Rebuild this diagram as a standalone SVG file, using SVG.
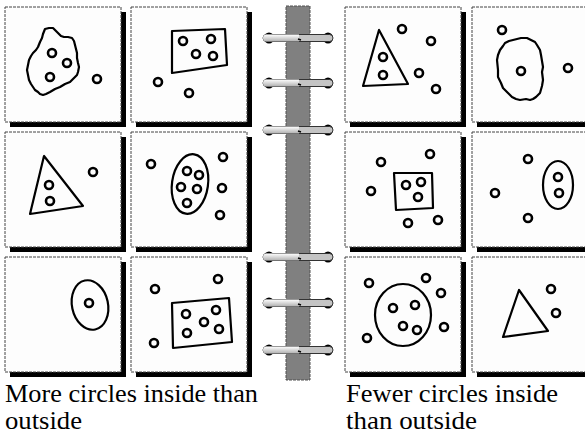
<svg xmlns="http://www.w3.org/2000/svg" width="585" height="438" viewBox="0 0 585 438">
<style>
.sh{fill:#000}
.pn{fill:#fdfdfd;stroke:#444;stroke-width:1;stroke-dasharray:3 1}
.c{fill:none;stroke:#000;stroke-width:2.6}
.s{fill:none;stroke:#000;stroke-width:2.2;stroke-linejoin:round}
.t{font-family:"Liberation Serif","Times New Roman",serif;font-size:26px;fill:#000}
.tube{stroke:#333;stroke-width:1}
</style>
<defs>
<linearGradient id="lg" x1="0" y1="0" x2="0" y2="1">
<stop offset="0" stop-color="#ffffff"/><stop offset="1" stop-color="#b0b0b0"/>
</linearGradient>
<g id="ring">
<ellipse cx="269" cy="0" rx="5" ry="5.5" fill="#000"/>
<ellipse cx="328" cy="0" rx="5" ry="5.5" fill="#000"/>
<rect x="263" y="-3.5" width="70" height="7" rx="3.5" fill="#c4c4c4" class="tube"/>
<path d="M266.5,-3.5 H299 V3.5 H266.5 A3.5,3.5 0 0 1 266.5,-3.5 Z" fill="url(#lg)"/>
<path d="M298,1 L301,2" stroke="#000" stroke-width="1.5"/>
</g>
</defs>
<rect width="585" height="438" fill="#fff"/>

<g id="spine">
<rect x="286" y="6" width="24" height="374" fill="#808080" stroke="#505050" stroke-width="1" stroke-dasharray="3 1"/>
</g>
<g id="rings">
<use href="#ring" y="38"/>
<use href="#ring" y="83"/>
<use href="#ring" y="130"/>
<use href="#ring" y="257"/>
<use href="#ring" y="303"/>
<use href="#ring" y="350"/>
</g>

<g id="panel1">
<rect class="sh" x="10" y="12" width="116" height="115"/>
<rect class="pn" x="5" y="7" width="116" height="115"/>
<path class="s" d="M45,29 L49,28 L53,28 L56,31 L58,33 L61,36 L64,37 L68,37 L72,38 L74,41 L75,45 L76,49 L77,53 L77,58 L78,63 L79,67 L78,72 L77,75 L74,78 L70,82 L65,84 L60,87 L55,89 L50,92 L46,94 L43,95 L40,94 L38,92 L35,90 L33,87 L31,84 L29,80 L28,75 L27,70 L28,65 L29,60 L31,56 L33,53 L36,50 L38,47 L40,42 L42,38 L43,34 Z"/>
<circle class="c" cx="52" cy="53" r="4"/>
<circle class="c" cx="67" cy="63" r="4"/>
<circle class="c" cx="50" cy="77" r="4"/>
<circle class="c" cx="97" cy="79" r="4"/>
</g>

<g id="panel2">
<rect class="sh" x="136" y="12" width="116" height="115"/>
<rect class="pn" x="131" y="7" width="116" height="115"/>
<path class="s" d="M172,31 L225,29 L227,65 L172,73 Z"/>
<circle class="c" cx="183" cy="41" r="4"/>
<circle class="c" cx="211" cy="39" r="4"/>
<circle class="c" cx="196" cy="54" r="4"/>
<circle class="c" cx="213" cy="56" r="4"/>
<circle class="c" cx="158" cy="82" r="4"/>
<circle class="c" cx="189" cy="93" r="4"/>
</g>

<g id="panel3">
<rect class="sh" x="350" y="12" width="116" height="115"/>
<rect class="pn" x="345" y="7" width="116" height="115"/>
<path class="s" d="M379,30 L363,86 L408,84 Z"/>
<circle class="c" cx="383" cy="57" r="4"/>
<circle class="c" cx="383" cy="75" r="4"/>
<circle class="c" cx="402" cy="29" r="4"/>
<circle class="c" cx="431" cy="41" r="4"/>
<circle class="c" cx="419" cy="73" r="4"/>
<circle class="c" cx="436" cy="89" r="4"/>
</g>

<g id="panel4">
<rect class="sh" x="477" y="12" width="116" height="115"/>
<rect class="pn" x="472" y="7" width="116" height="115"/>
<path class="s" d="M513,40 L517,39 L521,38 L527,38 L531,40 L535,42 L537,45 L540,50 L541,55 L542,61 L543,67 L542,72 L543,80 L542,86 L540,93 L536,97 L533,99 L530,100 L526,99 L520,100 L516,99 L512,97 L508,93 L503,88 L501,83 L498,77 L498,70 L497,60 L498,55 L500,50 L503,46 L505,43 L509,41 Z"/>
<circle class="c" cx="521" cy="71" r="4"/>
<circle class="c" cx="502" cy="30" r="4"/>
<circle class="c" cx="568" cy="68" r="4"/>
</g>

<g id="panel5">
<rect class="sh" x="10" y="137" width="116" height="115"/>
<rect class="pn" x="5" y="132" width="116" height="115"/>
<path class="s" d="M44,156 L30,214 L83,206 Z"/>
<circle class="c" cx="49" cy="185" r="4"/>
<circle class="c" cx="50" cy="201" r="4"/>
<circle class="c" cx="93" cy="172" r="4"/>
</g>

<g id="panel6">
<rect class="sh" x="136" y="137" width="116" height="115"/>
<rect class="pn" x="131" y="132" width="116" height="115"/>
<ellipse class="s" cx="190" cy="184" rx="18" ry="30" transform="rotate(8 190 184)"/>
<circle class="c" cx="187" cy="171" r="4"/>
<circle class="c" cx="199" cy="175" r="4"/>
<circle class="c" cx="181" cy="187" r="4"/>
<circle class="c" cx="197" cy="189" r="4"/>
<circle class="c" cx="187" cy="203" r="4"/>
<circle class="c" cx="151" cy="164" r="4"/>
<circle class="c" cx="223" cy="157" r="4"/>
<circle class="c" cx="222" cy="188" r="4"/>
<circle class="c" cx="220" cy="215" r="4"/>
</g>

<g id="panel7">
<rect class="sh" x="350" y="137" width="116" height="115"/>
<rect class="pn" x="345" y="132" width="116" height="115"/>
<path class="s" d="M394,173 L432,173 L433,208 L396,210 Z"/>
<circle class="c" cx="406" cy="185" r="4"/>
<circle class="c" cx="421" cy="182" r="4"/>
<circle class="c" cx="418" cy="197" r="4"/>
<circle class="c" cx="381" cy="162" r="4"/>
<circle class="c" cx="430" cy="154" r="4"/>
<circle class="c" cx="371" cy="191" r="4"/>
<circle class="c" cx="408" cy="223" r="4"/>
<circle class="c" cx="438" cy="220" r="4"/>
</g>

<g id="panel8">
<rect class="sh" x="477" y="137" width="116" height="115"/>
<rect class="pn" x="472" y="132" width="116" height="115"/>
<ellipse class="s" cx="558" cy="185" rx="15" ry="24"/>
<circle class="c" cx="558" cy="177" r="4"/>
<circle class="c" cx="559" cy="193" r="4"/>
<circle class="c" cx="528" cy="159" r="4"/>
<circle class="c" cx="495" cy="193" r="4"/>
<circle class="c" cx="528" cy="218" r="4"/>
</g>

<g id="panel9">
<rect class="sh" x="10" y="262" width="116" height="115"/>
<rect class="pn" x="5" y="257" width="116" height="115"/>
<ellipse class="s" cx="90" cy="305" rx="18" ry="25" transform="rotate(-12 90 305)"/>
<circle class="c" cx="89" cy="303" r="4"/>
</g>

<g id="panel10">
<rect class="sh" x="136" y="262" width="116" height="115"/>
<rect class="pn" x="131" y="257" width="116" height="115"/>
<path class="s" d="M172,303 L229,298 L232,342 L173,348 Z"/>
<circle class="c" cx="186" cy="314" r="4"/>
<circle class="c" cx="216" cy="310" r="4"/>
<circle class="c" cx="204" cy="322" r="4"/>
<circle class="c" cx="187" cy="333" r="4"/>
<circle class="c" cx="219" cy="329" r="4"/>
<circle class="c" cx="155" cy="289" r="4"/>
<circle class="c" cx="218" cy="279" r="4"/>
<circle class="c" cx="154" cy="343" r="4"/>
</g>

<g id="panel11">
<rect class="sh" x="350" y="262" width="116" height="115"/>
<rect class="pn" x="345" y="257" width="116" height="115"/>
<ellipse class="s" cx="403" cy="315" rx="28" ry="31"/>
<circle class="c" cx="393" cy="308" r="4"/>
<circle class="c" cx="415" cy="305" r="4"/>
<circle class="c" cx="403" cy="326" r="4"/>
<circle class="c" cx="417" cy="330" r="4"/>
<circle class="c" cx="369" cy="283" r="4"/>
<circle class="c" cx="426" cy="278" r="4"/>
<circle class="c" cx="441" cy="293" r="4"/>
<circle class="c" cx="444" cy="327" r="4"/>
<circle class="c" cx="367" cy="338" r="4"/>
</g>

<g id="panel12">
<rect class="sh" x="477" y="262" width="116" height="115"/>
<rect class="pn" x="472" y="257" width="116" height="115"/>
<path class="s" d="M519,290 L503,337 L548,331 Z"/>
<circle class="c" cx="551" cy="289" r="4"/>
<circle class="c" cx="556" cy="313" r="4"/>
</g>

<g id="labels">
<text class="t" x="5" y="402" textLength="253" lengthAdjust="spacingAndGlyphs">More circles inside than</text>
<text class="t" x="5" y="429" textLength="77" lengthAdjust="spacingAndGlyphs">outside</text>
<text class="t" x="346" y="402" textLength="212" lengthAdjust="spacingAndGlyphs">Fewer circles inside</text>
<text class="t" x="346" y="429" textLength="131" lengthAdjust="spacingAndGlyphs">than outside</text>
</g>
</svg>
